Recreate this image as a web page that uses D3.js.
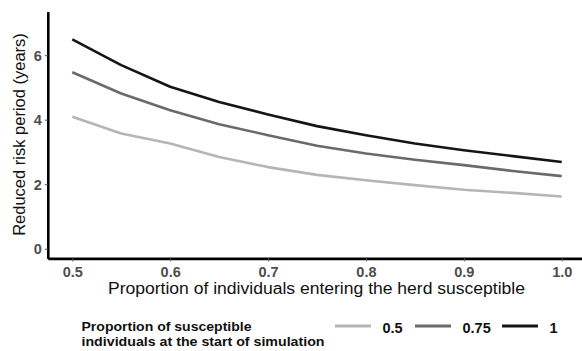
<!DOCTYPE html>
<html>
<head>
<meta charset="utf-8">
<script src="https://cdn.jsdelivr.net/npm/d3@7"></script>
<style>
  body { margin: 0; background: #fff; }
  svg { display: block; font-family: "Liberation Sans", Arial, sans-serif; }
</style>
</head>
<body>
<svg id="chart" width="582" height="351"></svg>
<script>
// proportion entering the herd susceptible
const entering = [0.5, 0.55, 0.6, 0.65, 0.7, 0.75, 0.8, 0.85, 0.9, 0.95, 1.0];

// reduced risk period (years), one series per starting proportion
const start050 = [4.09, 3.57, 3.26, 2.84, 2.53, 2.29, 2.12, 1.97, 1.83, 1.73, 1.62];
const start075 = [5.47, 4.81, 4.29, 3.86, 3.52, 3.19, 2.95, 2.76, 2.59, 2.41, 2.25];
const start100 = [6.49, 5.69, 5.02, 4.55, 4.16, 3.80, 3.52, 3.26, 3.05, 2.87, 2.69];

const seriesNames = ["0.5", "0.75", "1"];
const xTicks = [0.5, 0.6, 0.7, 0.8, 0.9, 1.0];
const yTicks = [0, 2, 4, 6];

const colors = ["#b5b5b5", "#6a6a6a", "#151515"];
const allSeries = [start050, start075, start100];

const svg = d3.select("#chart");

const x = d3.scaleLinear().domain([0.475, 1.025]).range([47.8, 586.2]);
const y = d3.scaleLinear().domain([-0.3, 7.35]).range([258.4, 11.6]);

// lines
const line = d3.line()
    .x((d, i) => x(entering[i]))
    .y(d => y(d));

svg.selectAll("path.series")
    .data(allSeries)
    .enter()
    .append("path")
    .attr("class", "series")
    .attr("d", d => line(d))
    .attr("fill", "none")
    .attr("stroke", (d, i) => colors[i])
    .attr("stroke-width", 2.6)
    .attr("stroke-linejoin", "round");

// axes
const xAxis = svg.append("g")
    .attr("transform", `translate(0, 258.4)`)
    .call(d3.axisBottom(x).tickValues(xTicks).tickFormat(d3.format(".1f")).tickSize(3).tickSizeOuter(0));
const yAxis = svg.append("g")
    .attr("transform", `translate(47.8, 0)`)
    .call(d3.axisLeft(y).tickValues(yTicks).tickSize(3).tickSizeOuter(0));

[xAxis, yAxis].forEach(g => {
    g.select(".domain").attr("stroke", "#000").attr("stroke-width", 2.6);
    g.selectAll(".tick line").attr("stroke", "#555").attr("stroke-width", 1);
    g.selectAll(".tick text")
        .attr("fill", "#4d4d4d")
        .attr("font-size", "14.5px")
        .attr("font-weight", "bold")
        .attr("font-family", "Liberation Sans, Arial, sans-serif");
});
xAxis.selectAll(".tick text").attr("y", 18.5).attr("dy", 0);
yAxis.selectAll(".tick text").attr("x", -6).attr("dy", "0.36em");

// axis titles
svg.append("text")
    .attr("x", 316.5)
    .attr("y", 294)
    .attr("text-anchor", "middle")
    .attr("font-size", "16px")
    .attr("textLength", 417)
    .attr("lengthAdjust", "spacingAndGlyphs")
    .attr("fill", "#111")
    .text("Proportion of individuals entering the herd susceptible");

svg.append("text")
    .attr("transform", "translate(25, 134.5) rotate(-90)")
    .attr("text-anchor", "middle")
    .attr("font-size", "16.5px")
    .attr("fill", "#111")
    .text("Reduced risk period (years)");

// legend
const legend = svg.append("g");
legend.append("text")
    .attr("x", 81.5).attr("y", 331)
    .attr("font-size", "13.5px").attr("font-weight", "bold").attr("fill", "#111")
    .attr("textLength", 170).attr("lengthAdjust", "spacingAndGlyphs")
    .text("Proportion of susceptible");
legend.append("text")
    .attr("x", 81.5).attr("y", 346)
    .attr("font-size", "13.5px").attr("font-weight", "bold").attr("fill", "#111")
    .attr("textLength", 243).attr("lengthAdjust", "spacingAndGlyphs")
    .text("individuals at the start of simulation");

const keyX = [335, 415, 502];
seriesNames.forEach((name, i) => {
    legend.append("line")
        .attr("x1", keyX[i]).attr("x2", keyX[i] + 36)
        .attr("y1", 326).attr("y2", 326)
        .attr("stroke", colors[i]).attr("stroke-width", 3);
    legend.append("text")
        .attr("x", keyX[i] + 47.5).attr("y", 332.5)
        .attr("font-size", "14.5px").attr("font-weight", "bold").attr("fill", "#111")
        .text(name);
});
</script>
</body>
</html>
